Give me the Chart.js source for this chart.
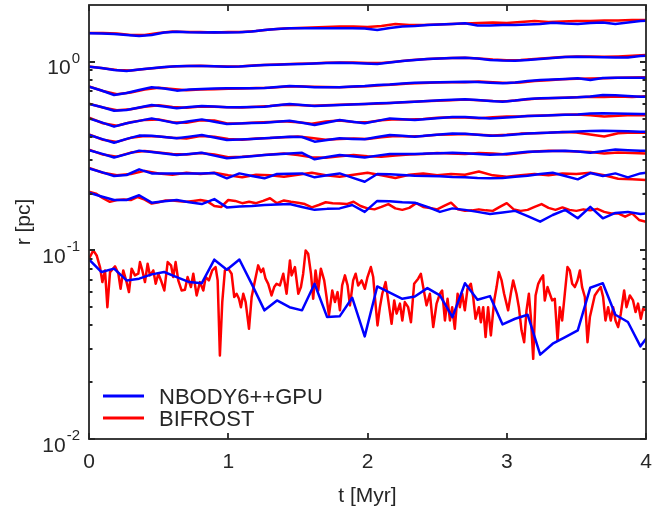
<!DOCTYPE html>
<html lang="en">
<head>
    <meta charset="UTF-8">
    <title>Lagrangian radii</title>
    <script src="https://cdn.jsdelivr.net/npm/chart.js"></script>
    <style>
        html, body { margin: 0; padding: 0; background: #fff; }
    </style>
</head>
<body>
    <canvas id="radii" width="672" height="507"></canvas>

    <script>
        // time grids [Myr]
        const tBlue = [0, 0.09, 0.18, 0.27, 0.36, 0.45, 0.54, 0.63, 0.72, 0.81, 0.90, 0.99, 1.08, 1.17, 1.26, 1.35, 1.44, 1.53, 1.62, 1.71,
            1.80, 1.89, 1.98, 2.07, 2.16, 2.25, 2.34, 2.43, 2.52, 2.61, 2.70, 2.79, 2.88, 2.97, 3.06, 3.15, 3.24, 3.33, 3.42, 3.51,
            3.60, 3.69, 3.78, 3.87, 3.96, 4.05];
        const tRed = [0, 0.1, 0.2, 0.3, 0.4, 0.5, 0.6, 0.7, 0.8, 0.9, 1.0, 1.1, 1.2, 1.3, 1.4, 1.5, 1.6, 1.7, 1.8, 1.9,
            2.0, 2.1, 2.2, 2.3, 2.4, 2.5, 2.6, 2.7, 2.8, 2.9, 3.0, 3.1, 3.2, 3.3, 3.4, 3.5, 3.6, 3.7, 3.8, 3.9, 4.0];
        const tRedFine = [0, 0.05, 0.1, 0.15, 0.2, 0.25, 0.3, 0.35, 0.4, 0.45, 0.5, 0.55, 0.6, 0.65, 0.7, 0.75, 0.8, 0.85, 0.9, 0.95,
            1.0, 1.05, 1.1, 1.15, 1.2, 1.25, 1.3, 1.35, 1.4, 1.45, 1.5, 1.55, 1.6, 1.65, 1.7, 1.75, 1.8, 1.85, 1.9, 1.95,
            2.0, 2.05, 2.1, 2.15, 2.2, 2.25, 2.3, 2.35, 2.4, 2.45, 2.5, 2.55, 2.6, 2.65, 2.7, 2.75, 2.8, 2.85, 2.9, 2.95,
            3.0, 3.05, 3.1, 3.15, 3.2, 3.25, 3.3, 3.35, 3.4, 3.45, 3.5, 3.55, 3.6, 3.65, 3.7, 3.75, 3.8, 3.85, 3.9, 3.95, 4.0];
        const tRedCore = [0.000, 0.031, 0.055, 0.079, 0.096, 0.115, 0.132, 0.151, 0.187, 0.211, 0.227, 0.246, 0.270, 0.287, 0.306, 0.330, 0.354, 0.366, 0.383, 0.402,
            0.421, 0.438, 0.462, 0.479, 0.498, 0.517, 0.541, 0.565, 0.589, 0.605, 0.622, 0.641, 0.665, 0.689, 0.708, 0.732, 0.749, 0.773, 0.797, 0.821,
            0.838, 0.861, 0.885, 0.909, 0.924, 0.940, 0.957, 0.976, 1.000,
            1.024, 1.043, 1.060, 1.077, 1.091, 1.108, 1.125, 1.149, 1.168, 1.192, 1.215, 1.235, 1.251, 1.268, 1.287, 1.311, 1.330, 1.347, 1.371, 1.395,
            1.419, 1.443, 1.455, 1.479, 1.503, 1.522, 1.538, 1.556, 1.574, 1.594, 1.610, 1.627, 1.646, 1.665, 1.689, 1.706, 1.723, 1.747, 1.766, 1.785,
            1.802, 1.818, 1.838, 1.857, 1.874, 1.897, 1.915, 1.933, 1.958, 1.981,
            2.000, 2.024, 2.041, 2.053, 2.072, 2.089, 2.106, 2.130, 2.149, 2.173, 2.192, 2.209, 2.233, 2.250, 2.268, 2.292, 2.312, 2.335, 2.364, 2.383,
            2.400, 2.424, 2.448, 2.472, 2.496, 2.520, 2.536, 2.556, 2.575, 2.592, 2.608, 2.627, 2.647, 2.663, 2.680, 2.699, 2.718, 2.742, 2.759, 2.776,
            2.800, 2.814, 2.831, 2.848, 2.866, 2.886, 2.910, 2.927, 2.943, 2.963, 2.981,
            3.010, 3.029, 3.046, 3.070, 3.087, 3.106, 3.125, 3.142, 3.159, 3.173, 3.190, 3.207, 3.226, 3.245, 3.261, 3.273, 3.293, 3.309, 3.326, 3.345,
            3.365, 3.381, 3.398, 3.417, 3.436, 3.453, 3.470, 3.489, 3.508, 3.525, 3.541, 3.561, 3.580, 3.597, 3.613, 3.632, 3.656, 3.675, 3.692, 3.709,
            3.728, 3.747, 3.764, 3.781, 3.800, 3.819, 3.843, 3.860, 3.884, 3.907, 3.925, 3.943, 3.963, 3.979, 4.000];

        // NBODY6++GPU radii [pc], innermost first
        const nbody0 = [0.0895, 0.0768, 0.080, 0.0693, 0.0708, 0.0746, 0.0768, 0.0722, 0.0679, 0.0670, 0.0893, 0.0790, 0.0895, 0.066, 0.0481, 0.0543, 0.050, 0.0481, 0.0665, 0.0443,
            0.0447, 0.0561, 0.035, 0.0644, 0.0597, 0.0554, 0.057, 0.0631, 0.0577, 0.0443, 0.067, 0.0547, 0.0572, 0.0405, 0.0434, 0.0456, 0.028, 0.032, 0.0347, 0.0377,
            0.0634, 0.067, 0.0456, 0.0417, 0.031, 0.038];
        const nbody1 = [0.202, 0.193, 0.185, 0.185, 0.196, 0.179, 0.182, 0.185, 0.180, 0.176, 0.187, 0.169, 0.171, 0.172, 0.174, 0.175, 0.176, 0.170, 0.164, 0.166,
            0.167, 0.174, 0.160, 0.183, 0.182, 0.180, 0.179, 0.170, 0.160, 0.167, 0.164, 0.160, 0.156, 0.159, 0.162, 0.152, 0.142, 0.154, 0.164, 0.148,
            0.170, 0.148, 0.158, 0.160, 0.156, 0.158];
        const nbody2 = [0.272, 0.260, 0.248, 0.251, 0.269, 0.256, 0.256, 0.256, 0.256, 0.256, 0.257, 0.241, 0.256, 0.248, 0.241, 0.254, 0.255, 0.256, 0.244, 0.250,
            0.256, 0.243, 0.231, 0.254, 0.253, 0.251, 0.249, 0.248, 0.247, 0.245, 0.244, 0.242, 0.241, 0.242, 0.246, 0.249, 0.254, 0.258, 0.248, 0.238,
            0.257, 0.248, 0.256, 0.244, 0.256, 0.261];
        const nbody3 = [0.340, 0.326, 0.311, 0.324, 0.338, 0.332, 0.326, 0.320, 0.324, 0.329, 0.318, 0.308, 0.312, 0.316, 0.320, 0.323, 0.326, 0.329, 0.304, 0.313,
            0.320, 0.316, 0.311, 0.318, 0.324, 0.324, 0.324, 0.326, 0.327, 0.329, 0.327, 0.324, 0.321, 0.323, 0.328, 0.333, 0.334, 0.336, 0.338, 0.334,
            0.329, 0.336, 0.343, 0.340, 0.338, 0.337];
        const nbody4 = [0.409, 0.390, 0.372, 0.390, 0.406, 0.405, 0.399, 0.393, 0.401, 0.409, 0.397, 0.385, 0.387, 0.390, 0.393, 0.397, 0.400, 0.399, 0.377, 0.385,
            0.393, 0.390, 0.388, 0.399, 0.409, 0.405, 0.400, 0.406, 0.411, 0.416, 0.415, 0.410, 0.405, 0.406, 0.411, 0.417, 0.419, 0.422, 0.424, 0.427,
            0.430, 0.431, 0.430, 0.428, 0.426, 0.426];
        const nbody5 = [0.501, 0.477, 0.453, 0.472, 0.486, 0.501, 0.486, 0.472, 0.484, 0.495, 0.481, 0.468, 0.471, 0.473, 0.475, 0.481, 0.487, 0.475, 0.462, 0.477,
            0.491, 0.481, 0.472, 0.486, 0.501, 0.496, 0.491, 0.497, 0.503, 0.510, 0.510, 0.505, 0.501, 0.505, 0.510, 0.516, 0.518, 0.521, 0.523, 0.526,
            0.532, 0.533, 0.532, 0.530, 0.528, 0.528];
        const nbody6 = [0.597, 0.576, 0.550, 0.555, 0.572, 0.590, 0.579, 0.567, 0.576, 0.583, 0.579, 0.574, 0.574, 0.576, 0.578, 0.588, 0.597, 0.590, 0.583, 0.586,
            0.590, 0.594, 0.597, 0.602, 0.605, 0.610, 0.614, 0.620, 0.625, 0.629, 0.633, 0.627, 0.620, 0.614, 0.623, 0.635, 0.640, 0.642, 0.645, 0.648,
            0.655, 0.667, 0.664, 0.659, 0.653, 0.652];
        const nbody7 = [0.738, 0.704, 0.667, 0.683, 0.708, 0.732, 0.722, 0.703, 0.713, 0.717, 0.722, 0.723, 0.723, 0.723, 0.726, 0.735, 0.744, 0.740, 0.732, 0.732,
            0.732, 0.740, 0.744, 0.753, 0.758, 0.767, 0.775, 0.777, 0.778, 0.781, 0.784, 0.781, 0.775, 0.769, 0.777, 0.791, 0.800, 0.806, 0.811, 0.818,
            0.800, 0.821, 0.823, 0.823, 0.823, 0.825];
        const nbody8 = [0.942, 0.927, 0.905, 0.894, 0.910, 0.924, 0.938, 0.946, 0.950, 0.950, 0.946, 0.942, 0.944, 0.952, 0.962, 0.965, 0.970, 0.973, 0.979, 0.985,
            0.989, 0.985, 0.979, 0.973, 0.992, 1.010, 1.022, 1.035, 1.041, 1.047, 1.051, 1.041, 1.022, 1.016, 1.014, 1.022, 1.035, 1.047, 1.060, 1.064,
            1.060, 1.056, 1.054, 1.054, 1.073, 1.080];
        const nbody9 = [1.417, 1.413, 1.404, 1.387, 1.370, 1.387, 1.430, 1.444, 1.434, 1.430, 1.434, 1.430, 1.434, 1.448, 1.475, 1.493, 1.506, 1.506, 1.506, 1.506,
            1.506, 1.506, 1.502, 1.475, 1.511, 1.539, 1.548, 1.567, 1.577, 1.586, 1.600, 1.557, 1.557, 1.567, 1.567, 1.577, 1.586, 1.612, 1.596, 1.586,
            1.606, 1.616, 1.586, 1.616, 1.646, 1.656];

        // BIFROST radii [pc]
        const bifrost0 = [0.0904, 0.100, 0.094, 0.0816, 0.0679, 0.0783, 0.050, 0.0767, 0.0823, 0.0752, 0.0626, 0.0783, 0.0679, 0.0601, 0.080, 0.0737, 0.0752, 0.0867, 0.0783, 0.0679,
            0.085, 0.0737, 0.0783, 0.0665, 0.0752, 0.0693, 0.0613, 0.0867, 0.0833, 0.0722, 0.0867, 0.0693, 0.0613, 0.0618, 0.0722, 0.0639, 0.0752, 0.0577, 0.0679, 0.0613,
            0.0722, 0.0693, 0.0783, 0.0816, 0.0693, 0.0277, 0.0532, 0.0783, 0.080,
            0.0752, 0.0566, 0.0589, 0.0554, 0.050, 0.0589, 0.0532, 0.0384, 0.0566, 0.0693, 0.0833, 0.0767, 0.080, 0.0708, 0.0665, 0.0577, 0.0639, 0.0665, 0.0652, 0.0752,
            0.0589, 0.0885, 0.0737, 0.0816, 0.0589, 0.0639, 0.0752, 0.100, 0.096, 0.0752, 0.0554, 0.0783, 0.0613, 0.080, 0.0693, 0.0566, 0.0452, 0.0613, 0.0532, 0.0601,
            0.0481, 0.0652, 0.0737, 0.0652, 0.0511, 0.0693, 0.0752, 0.0652, 0.0693, 0.0626,
            0.0722, 0.0816, 0.0722, 0.0566, 0.040, 0.050, 0.0589, 0.0679, 0.0543, 0.0408, 0.0543, 0.0462, 0.0522, 0.0425, 0.0532, 0.050, 0.0416, 0.0665, 0.0708, 0.0752,
            0.0639, 0.0511, 0.0589, 0.0392, 0.0522, 0.0589, 0.0613, 0.0425, 0.0554, 0.0425, 0.050, 0.0384, 0.0589, 0.050, 0.0589, 0.0481, 0.0626, 0.0665, 0.0566, 0.0434,
            0.050, 0.0416, 0.050, 0.0347, 0.050, 0.0354, 0.0543, 0.0639, 0.0767, 0.0693, 0.0589,
            0.0481, 0.0589, 0.0693, 0.0589, 0.050, 0.0377, 0.0326, 0.0481, 0.0589, 0.0443, 0.0266, 0.0577, 0.0665, 0.0708, 0.0737, 0.0543, 0.0639, 0.0589, 0.0543, 0.0554,
            0.0333, 0.050, 0.0425, 0.0589, 0.0816, 0.0783, 0.0665, 0.0639, 0.0693, 0.0783, 0.0639, 0.0566, 0.0326, 0.0443, 0.050, 0.0577, 0.0613, 0.0639, 0.0566, 0.0425,
            0.050, 0.0425, 0.050, 0.0425, 0.0392, 0.0462, 0.0613, 0.050, 0.0577, 0.0543, 0.0471, 0.0522, 0.0434, 0.0490, 0.0481];
        const bifrost1 = [0.205, 0.200, 0.189, 0.181, 0.185, 0.186, 0.185, 0.192, 0.186, 0.177, 0.180, 0.184, 0.184, 0.182, 0.181, 0.183, 0.185, 0.182, 0.172, 0.170,
            0.185, 0.183, 0.178, 0.181, 0.178, 0.183, 0.189, 0.178, 0.184, 0.181, 0.179, 0.176, 0.169, 0.174, 0.180, 0.178, 0.177, 0.176, 0.181, 0.172,
            0.167, 0.165, 0.170, 0.176, 0.167, 0.164, 0.168, 0.178, 0.170, 0.168, 0.165, 0.172, 0.179, 0.165, 0.162, 0.163, 0.165, 0.163, 0.162, 0.170,
            0.178, 0.165, 0.162, 0.164, 0.170, 0.176, 0.168, 0.164, 0.169, 0.164, 0.162, 0.165, 0.163, 0.166, 0.160, 0.157, 0.157, 0.151, 0.157, 0.145, 0.142];
        const bifrost2 = [0.274, 0.258, 0.250, 0.254, 0.264, 0.256, 0.252, 0.258, 0.254, 0.258, 0.250, 0.244, 0.252, 0.250, 0.246, 0.252, 0.258, 0.250, 0.246, 0.252,
            0.258, 0.250, 0.242, 0.252, 0.256, 0.250, 0.254, 0.252, 0.262, 0.250, 0.246, 0.250, 0.254, 0.250, 0.256, 0.254, 0.258, 0.250, 0.240, 0.238, 0.236];
        const bifrost3 = [0.342, 0.322, 0.314, 0.330, 0.336, 0.330, 0.324, 0.322, 0.328, 0.322, 0.312, 0.314, 0.318, 0.322, 0.326, 0.320, 0.312, 0.310, 0.316, 0.320,
            0.316, 0.314, 0.318, 0.322, 0.324, 0.328, 0.326, 0.324, 0.328, 0.326, 0.322, 0.328, 0.334, 0.338, 0.336, 0.334, 0.332, 0.326, 0.330, 0.328, 0.326];
        const bifrost4 = [0.412, 0.386, 0.376, 0.395, 0.404, 0.402, 0.396, 0.392, 0.404, 0.400, 0.390, 0.386, 0.392, 0.394, 0.398, 0.402, 0.394, 0.386, 0.390, 0.392,
            0.390, 0.398, 0.404, 0.402, 0.404, 0.410, 0.412, 0.414, 0.410, 0.406, 0.410, 0.416, 0.418, 0.420, 0.424, 0.422, 0.412, 0.402, 0.418, 0.422, 0.420];
        const bifrost5 = [0.505, 0.472, 0.458, 0.478, 0.492, 0.495, 0.478, 0.475, 0.490, 0.488, 0.470, 0.472, 0.476, 0.480, 0.484, 0.478, 0.470, 0.482, 0.488, 0.480,
            0.478, 0.490, 0.496, 0.494, 0.498, 0.505, 0.508, 0.506, 0.502, 0.508, 0.512, 0.514, 0.518, 0.520, 0.524, 0.526, 0.520, 0.512, 0.518, 0.522, 0.520];
        const bifrost6 = [0.600, 0.572, 0.553, 0.560, 0.578, 0.588, 0.575, 0.570, 0.580, 0.578, 0.574, 0.572, 0.578, 0.582, 0.592, 0.590, 0.584, 0.588, 0.592, 0.596,
            0.598, 0.600, 0.606, 0.612, 0.618, 0.622, 0.626, 0.630, 0.626, 0.620, 0.618, 0.628, 0.636, 0.640, 0.644, 0.648, 0.652, 0.650, 0.655, 0.650, 0.656];
        const bifrost7 = [0.740, 0.700, 0.672, 0.688, 0.712, 0.728, 0.718, 0.706, 0.712, 0.716, 0.720, 0.722, 0.725, 0.728, 0.738, 0.742, 0.738, 0.735, 0.733, 0.738,
            0.742, 0.750, 0.758, 0.766, 0.772, 0.776, 0.778, 0.780, 0.785, 0.780, 0.772, 0.776, 0.790, 0.798, 0.808, 0.812, 0.815, 0.818, 0.822, 0.825, 0.828];
        const bifrost8 = [0.945, 0.925, 0.905, 0.898, 0.915, 0.930, 0.945, 0.950, 0.952, 0.948, 0.945, 0.948, 0.958, 0.965, 0.970, 0.975, 0.980, 0.988, 0.992, 0.990,
            0.985, 0.985, 1.000, 1.018, 1.030, 1.040, 1.048, 1.050, 1.040, 1.028, 1.020, 1.022, 1.035, 1.048, 1.060, 1.068, 1.065, 1.062, 1.068, 1.075, 1.085];
        const bifrost9 = [1.421, 1.421, 1.413, 1.387, 1.387, 1.421, 1.448, 1.439, 1.439, 1.430, 1.439, 1.439, 1.457, 1.484, 1.502, 1.511, 1.520, 1.529, 1.539, 1.539,
            1.529, 1.548, 1.586, 1.567, 1.567, 1.577, 1.586, 1.596, 1.606, 1.616, 1.606, 1.626, 1.646, 1.626, 1.636, 1.646, 1.646, 1.656, 1.656, 1.667, 1.667];

        // axis ticks
        const xTicks = [0, 1, 2, 3, 4];
        const yMajor = [0.01, 0.1, 1];
        const yMinor = [0.02, 0.03, 0.04, 0.05, 0.06, 0.07, 0.08, 0.09, 0.2, 0.3, 0.4, 0.5, 0.6, 0.7, 0.8, 0.9];
        const yExponents = ['-2', '-1', '0'];

        const INK = '#262626';
        const BLUE = 'rgb(0,0,255)';
        const RED = 'rgb(255,0,0)';
        const FONT = '"Liberation Sans", Arial, Helvetica, sans-serif';

        const pts = (ts, rs) => ts.map((t, i) => ({x: t, y: rs[i]}));
        const line = (label, color, ts, rs) => ({
            label, data: pts(ts, rs), borderColor: color, backgroundColor: color,
            borderWidth: 2.5, pointRadius: 0, tension: 0, borderJoinStyle: 'round', fill: false
        });

        const blueSets = [nbody0, nbody1, nbody2, nbody3, nbody4, nbody5, nbody6, nbody7, nbody8, nbody9]
            .map(r => line('NBODY6++GPU', BLUE, tBlue, r));
        const redSets = [
            line('BIFROST', RED, tRedCore, bifrost0),
            line('BIFROST', RED, tRedFine, bifrost1),
            ...[bifrost2, bifrost3, bifrost4, bifrost5, bifrost6, bifrost7, bifrost8, bifrost9].map(r => line('BIFROST', RED, tRed, r))
        ];

        // box, inward ticks, 10^n labels, axis titles and legend, MATLAB style
        const matlabAxes = {
            id: 'matlabAxes',
            afterDraw(chart) {
                const {ctx, chartArea: a, scales: {x, y}} = chart;
                ctx.save();
                ctx.strokeStyle = INK;
                ctx.lineWidth = 1.8;
                ctx.beginPath();
                xTicks.forEach(v => {
                    const px = Math.round(x.getPixelForValue(v));
                    ctx.moveTo(px, a.bottom); ctx.lineTo(px, a.bottom - 6);
                    ctx.moveTo(px, a.top); ctx.lineTo(px, a.top + 6);
                });
                yMajor.forEach(v => {
                    const py = Math.round(y.getPixelForValue(v));
                    ctx.moveTo(a.left, py); ctx.lineTo(a.left + 6, py);
                    ctx.moveTo(a.right, py); ctx.lineTo(a.right - 6, py);
                });
                yMinor.forEach(v => {
                    const py = Math.round(y.getPixelForValue(v));
                    ctx.moveTo(a.left, py); ctx.lineTo(a.left + 3.5, py);
                    ctx.moveTo(a.right, py); ctx.lineTo(a.right - 3.5, py);
                });
                ctx.stroke();
                ctx.strokeRect(a.left, a.top, a.right - a.left, a.bottom - a.top);

                // y tick labels as 10 with a raised exponent
                ctx.fillStyle = INK;
                ctx.textBaseline = 'alphabetic';
                ctx.textAlign = 'right';
                yMajor.forEach((v, i) => {
                    const py = y.getPixelForValue(v);
                    ctx.font = '15px ' + FONT;
                    const ew = ctx.measureText(yExponents[i]).width;
                    ctx.fillText(yExponents[i], 80, py + 1);
                    ctx.font = '21px ' + FONT;
                    ctx.fillText('10', 80 - ew - 1, py + 12.5);
                });

                // axis titles
                ctx.font = '21px ' + FONT;
                ctx.textAlign = 'center';
                ctx.fillText('t [Myr]', (a.left + a.right) / 2, 502);
                ctx.save();
                ctx.translate(30, (a.top + a.bottom) / 2);
                ctx.rotate(-Math.PI / 2);
                ctx.fillText('r [pc]', 0, 0);
                ctx.restore();

                // legend
                const entries = [[blueSets[0].label, BLUE], [redSets[0].label, RED]];
                ctx.font = '22px ' + FONT;
                ctx.textAlign = 'left';
                ctx.lineWidth = 3;
                entries.forEach(([text, color], i) => {
                    const ly = 396 + i * 22;
                    ctx.strokeStyle = color;
                    ctx.beginPath();
                    ctx.moveTo(103, ly); ctx.lineTo(144, ly);
                    ctx.stroke();
                    ctx.fillStyle = INK;
                    ctx.fillText(text, 159, ly + 7.5);
                });
                ctx.restore();
            }
        };

        Chart.defaults.font.family = FONT;

        new Chart(document.getElementById('radii'), {
            type: 'line',
            data: {datasets: [...blueSets, ...redSets]},
            options: {
                responsive: false,
                animation: false,
                devicePixelRatio: 1,
                layout: {padding: {top: 5, right: 26, left: 0, bottom: 0}},
                plugins: {legend: {display: false}, tooltip: {enabled: false}},
                scales: {
                    x: {
                        type: 'linear', min: 0, max: 4,
                        ticks: {stepSize: 1, color: INK, font: {size: 21}, padding: 11, maxRotation: 0},
                        grid: {display: false, drawTicks: false},
                        border: {display: false},
                        afterFit: s => { s.height = 68; }
                    },
                    y: {
                        type: 'logarithmic', min: 0.01, max: 2,
                        ticks: {display: false},
                        grid: {display: false, drawTicks: false},
                        border: {display: false},
                        afterFit: s => { s.width = 89; }
                    }
                }
            },
            plugins: [matlabAxes]
        });
    </script>
</body>
</html>
